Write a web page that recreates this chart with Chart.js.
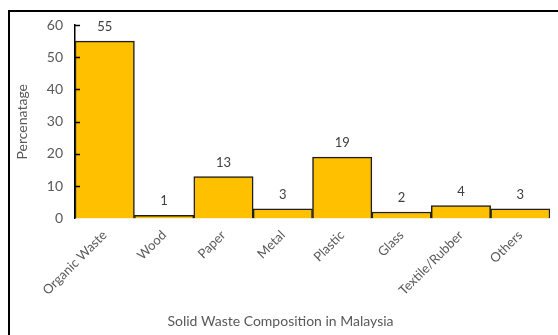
<!DOCTYPE html>
<html>
<head>
<meta charset="utf-8">
<script src="https://cdn.jsdelivr.net/npm/chart.js@4/dist/chart.umd.min.js"></script>
<style>
  html, body { margin: 0; padding: 0; background: #fff; }
  .frame {
    position: absolute; left: 8px; top: 10px;
    width: 550px; height: 325px;
    border-left: 2px solid #000; border-top: 2px solid #000;
  }
  .frame canvas { display: block; }
</style>
</head>
<body>
<div class="frame"><canvas id="waste-chart" width="548" height="323"></canvas></div>
<script>
// ---- Data ----
const categories = ['Organic Waste', 'Wood', 'Paper', 'Metal', 'Plastic', 'Glass', 'Textile/Rubber', 'Others'];
const percentages = [55, 1, 13, 3, 19, 2, 4, 3];
const yTicks = [0, 10, 20, 30, 40, 50, 60];

const FONT = "Lato, 'Open Sans', sans-serif";

// value labels above each bar
const valueLabels = {
  id: 'valueLabels',
  afterDatasetsDraw(chart) {
    const ctx = chart.ctx;
    const meta = chart.getDatasetMeta(0);
    ctx.save();
    ctx.fillStyle = '#404040';
    ctx.font = `13px ${FONT}`;
    ctx.textAlign = 'center';
    ctx.textBaseline = 'middle';
    meta.data.forEach((bar, i) => {
      ctx.fillText(String(percentages[i]), bar.x, bar.y - 14);
    });
    ctx.restore();
  }
};

// short tick marks drawn inside the plot on the y axis
const innerTicks = {
  id: 'innerTicks',
  afterDraw(chart) {
    const { ctx, scales: { y } } = chart;
    ctx.save();
    ctx.strokeStyle = '#000';
    ctx.lineWidth = 1.5;
    yTicks.forEach(v => {
      if (v === 0) return;
      const py = Math.round(y.getPixelForValue(v)) + 0.5;
      ctx.beginPath();
      ctx.moveTo(y.right, py);
      ctx.lineTo(y.right + 5, py);
      ctx.stroke();
    });
    ctx.restore();
  }
};

new Chart(document.getElementById('waste-chart'), {
  type: 'bar',
  data: {
    labels: categories,
    datasets: [{
      data: percentages,
      backgroundColor: '#FFC000',
      borderColor: '#1e1e1e',
      borderWidth: 1.5,
      barPercentage: 1,
      categoryPercentage: 1
    }]
  },
  options: {
    responsive: false,
    animation: false,
    layout: { padding: { top: 0, right: 8, left: 1, bottom: 0 } },
    plugins: {
      legend: { display: false },
      tooltip: { enabled: false },
      title: {
        display: true,
        position: 'bottom',
        text: 'Solid Waste Composition in Malaysia',
        color: '#595959',
        font: { family: FONT, size: 14, weight: 'normal' },
        padding: { top: 6, bottom: 5 }
      }
    },
    scales: {
      x: {
        grid: { display: false, drawTicks: false },
        border: { display: false },
        ticks: {
          color: '#595959',
          font: { family: FONT, size: 13 },
          maxRotation: 45,
          minRotation: 45,
          padding: 9
        }
      },
      y: {
        min: 0,
        max: 60,
        afterBuildTicks: axis => { axis.ticks = yTicks.map(v => ({ value: v })); },
        // keep the plot top close to the "60" label
        afterFit: axis => { axis.paddingTop = 13; axis.paddingBottom = 0; },
        grid: { display: false, drawTicks: false },
        border: { display: true, color: '#000', width: 1.5 },
        ticks: {
          color: '#595959',
          font: { family: FONT, size: 14 },
          padding: 12
        },
        title: {
          display: true,
          text: 'Percenatage',
          color: '#595959',
          font: { family: FONT, size: 14 },
          padding: { top: 3, bottom: 4 }
        }
      }
    }
  },
  plugins: [valueLabels, innerTicks]
});
</script>
</body>
</html>
